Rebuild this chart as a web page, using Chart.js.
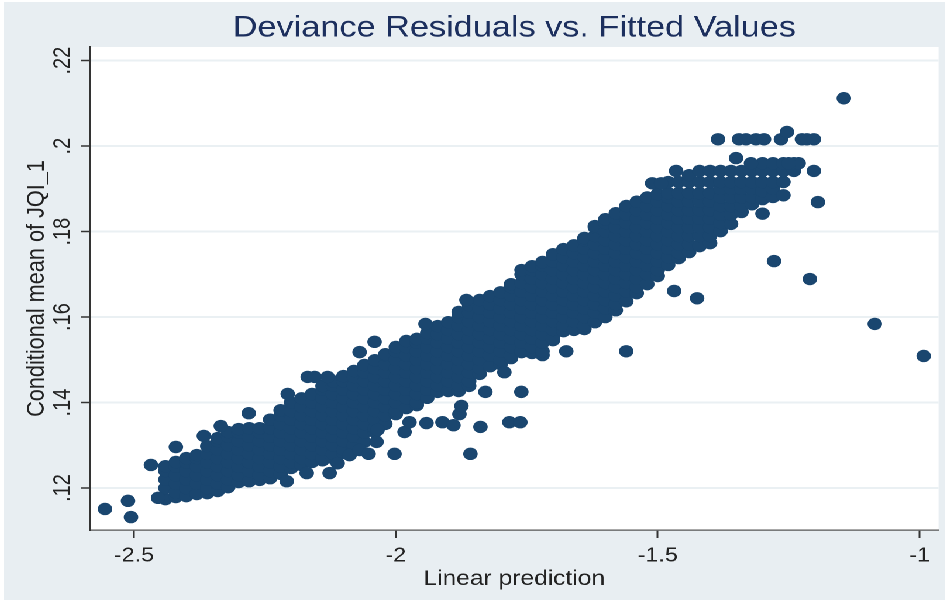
<!DOCTYPE html>
<html>
<head>
<meta charset="utf-8">
<script src="https://cdn.jsdelivr.net/npm/chart.js@4"></script>
<style>
html,body{margin:0;padding:0;background:#fff;width:945px;height:600px;overflow:hidden}
#wrap{position:absolute;left:4px;top:2px;width:805px;height:598px;background:#e8eef2;transform:scaleX(1.17);transform-origin:0 0}
canvas{display:block}
</style>
</head>
<body>
<div id="wrap"><canvas id="c" width="805" height="598" style="width:805px;height:598px"></canvas></div>
<script>
const chartTitle = "Deviance Residuals vs. Fitted Values";
const xAxisTitle = "Linear prediction";
const yAxisTitle = "Conditional mean of JQI_1";
const xTickValues = [-2.5, -2, -1.5, -1];
const xTickLabels = ["-2.5", "-2", "-1.5", "-1"];
const yTickValues = [0.12, 0.14, 0.16, 0.18, 0.2, 0.22];
const yTickLabels = [".12", ".14", ".16", ".18", ".2", ".22"];

// main cloud
const cloudX = [-2.44,-2.42,-2.40,-2.38,-2.36,-2.34,-2.32,-2.30,-2.28,-2.26,-2.24,-2.22,-2.20,-2.18,-2.16,-2.14,-2.12,-2.10,-2.08,-2.06,-2.04,-2.02,-2.00,-1.98,-1.96,-1.94,-1.92,-1.90,-1.88,-1.86,-1.84,-1.82,-1.80,-1.78,-1.76,-1.74,-1.72,-1.70,-1.68,-1.66,-1.64,-1.62,-1.60,-1.58,-1.56,-1.54,-1.52,-1.50,-1.48,-1.46,-1.44,-1.42,-1.40,-1.38,-1.36,-1.34,-1.32,-1.30,-1.28,-1.26,-1.24];
const cloudY = [
[.1174,.120,.122,.124,.1251],
[.1179,.119,.121,.123,.125,.1261],
[.1181,.120,.122,.124,.126,.127],
[.1186,.121,.123,.125,.127,.1277],
[.1188,.120,.122,.124,.126,.128,.1298],
[.1193,.121,.123,.125,.127,.129,.131,.1317],
[.1202,.122,.124,.126,.128,.130,.132,.1331],
[.1214,.123,.125,.127,.129,.131,.133,.1338],
[.1216,.124,.126,.128,.130,.132,.134],
[.1219,.123,.125,.127,.129,.131,.133,.134],
[.1223,.124,.126,.128,.130,.132,.134,.136],
[.1233,.125,.127,.129,.131,.133,.135,.137,.1382],
[.1247,.126,.128,.130,.132,.134,.136,.138,.140],
[.1254,.127,.129,.131,.133,.135,.137,.139,.141],
[.1261,.128,.130,.132,.134,.136,.138,.140,.142],
[.1265,.127,.129,.131,.133,.135,.137,.139,.141,.143,.1439],
[.1270,.128,.130,.132,.134,.136,.138,.140,.142,.144,.145],
[.1282,.129,.131,.133,.135,.137,.139,.141,.143,.145,.1462],
[.1291,.130,.132,.134,.136,.138,.140,.142,.144,.146,.1474],
[.1308,.133,.135,.137,.139,.141,.143,.145,.147,.1488],
[.1331,.134,.136,.138,.140,.142,.144,.146,.148,.1499],
[.135,.137,.139,.141,.143,.145,.147,.149,.151,.1513],
[.1373,.138,.140,.142,.144,.146,.148,.150,.152,.153],
[.1387,.141,.143,.145,.147,.149,.151,.153,.1544],
[.1394,.140,.142,.144,.146,.148,.150,.152,.154,.1549],
[.1411,.143,.145,.147,.149,.151,.153,.155,.1563],
[.1425,.144,.146,.148,.150,.152,.154,.156,.1579],
[.1427,.145,.147,.149,.151,.153,.155,.157,.1588],
[.1427,.144,.146,.148,.150,.152,.154,.156,.158,.160,.1612],
[.1439,.145,.147,.149,.151,.153,.155,.157,.159,.161,.1628],
[.1467,.148,.150,.152,.154,.156,.158,.160,.162,.164],
[.1485,.151,.153,.155,.157,.159,.161,.163,.1649],
[.1490,.150,.152,.154,.156,.158,.160,.162,.164,.1658],
[.1504,.151,.153,.155,.157,.159,.161,.163,.165,.167,.1677],
[.1518,.152,.154,.156,.158,.160,.162,.164,.166,.168,.170,.171],
[.1516,.153,.155,.157,.159,.161,.163,.165,.167,.169,.171,.1719],
[.1511,.152,.154,.156,.158,.160,.162,.164,.166,.168,.170,.172,.1729],
[.1546,.155,.157,.159,.161,.163,.165,.167,.169,.171,.173,.1747],
[.1567,.158,.160,.162,.164,.166,.168,.170,.172,.174,.1759],
[.1570,.159,.161,.163,.165,.167,.169,.171,.173,.175,.1768],
[.1572,.158,.160,.162,.164,.166,.168,.170,.172,.174,.176,.178,.1785],
[.1588,.161,.163,.165,.167,.169,.171,.173,.175,.177,.179,.181,.1813],
[.160,.162,.164,.166,.168,.170,.172,.174,.176,.178,.180,.182,.1829],
[.1616,.163,.165,.167,.169,.171,.173,.175,.177,.179,.181,.183,.1843],
[.1637,.166,.168,.170,.172,.174,.176,.178,.180,.182,.184,.186],
[.1656,.167,.169,.171,.173,.175,.177,.179,.181,.183,.185,.187],
[.1677,.170,.172,.174,.176,.178,.180,.182,.184,.186,.188],
[.1696,.171,.173,.175,.177,.179,.181,.183,.185,.187,.1888],
[.1722,.174,.176,.178,.180,.182,.184,.186,.188,.189,.1916],
[.1738,.175,.177,.179,.181,.183,.185,.187,.189,.1916],
[.1752,.177,.179,.181,.183,.185,.187,.189,.1916,.1932],
[.1766,.179,.181,.183,.185,.187,.189,.1916,.1942],
[.1773,.179,.181,.183,.185,.187,.189,.1916,.1942],
[.1801,.182,.184,.186,.188,.190,.1916,.1942],
[.1818,.184,.186,.188,.190,.1916,.1942],
[.1846,.186,.188,.190,.1916,.1942],
[.1864,.188,.190,.1916,.1942],
[.1876,.1895,.1916,.1942,.196],
[.1881,.190,.1916,.1942,.196],
[.1885,.1916,.1942,.196],
[.1942,.196]
];

// single dots standing clear of the cloud
const strayX = [-2.5553,-2.5114,-2.5057,-2.4676,-2.454,-2.42,-2.3666,-2.3342,-2.2808,-2.2064,-2.1683,-2.155,-2.1302,-2.0692,-2.0406,-1.9434,-1.8652,
-2.2083,-2.1702,-2.1264,-2.1111,-2.0883,-2.0692,-2.052,-2.0025,-2.0368,-2.0349,-1.9834,-1.9739,-1.9415,-1.911,-1.89,-1.8786,-1.8748,-1.8385,-1.8576,-1.7833,-1.7623,-1.829,-1.7604,-1.7928,-1.6746,-1.5602,-1.4687,-1.4248,
-1.5107,-1.4935,-1.4649,-1.231,-1.3505,-1.322,-1.3849,-1.3448,-1.3315,-1.3124,-1.2971,-1.2648,-1.2533,-1.2247,-1.2152,-1.2019,-1.2019,-1.1942,-1.1447,-1.278,-1.2095,-1.0856,-0.9922,-1.3,-1.25];
const strayY = [.1151,.1170,.1132,.1254,.1177,.1296,.1322,.1345,.1375,.1420,.1460,.1460,.1460,.1518,.1542,.1584,.1640,
.1216,.1235,.1235,.1258,.1277,.1289,.1280,.1280,.1308,.1336,.1331,.1354,.1352,.1354,.1347,.1373,.1392,.1343,.1280,.1354,.1354,.1425,.1425,.1471,.1520,.1520,.1661,.1644,
.1913,.1913,.1942,.196,.1972,.196,.2016,.2016,.2016,.2016,.2016,.2016,.2033,.2016,.2016,.2016,.1942,.1869,.2112,.1731,.1689,.1584,.1509,.1842,.196];

const points = [];
cloudX.forEach((x, i) => cloudY[i].forEach(y => points.push({x, y})));
strayX.forEach((x, i) => points.push({x, y: strayY[i]}));

const paintPlot = {
  id: 'paintPlot',
  beforeDraw(chart) {
    const a = chart.chartArea, c = chart.ctx;
    c.save();
    c.fillStyle = '#ffffff';
    c.fillRect(a.left, a.top, a.right - a.left, a.bottom - a.top);
    c.restore();
  }
};

const FONT = '"Liberation Sans", Arial, sans-serif';
new Chart(document.getElementById('c'), {
  type: 'scatter',
  data: { datasets: [{ data: points, pointRadius: 6.2, pointHoverRadius: 6.2, pointBorderWidth: 0,
    backgroundColor: '#1a466f', borderColor: '#1a466f' }] },
  plugins: [paintPlot],
  options: {
    responsive: false, animation: false, devicePixelRatio: 2,
    layout: { padding: { left: 15, bottom: 8, top: 0, right: 0 } },
    plugins: {
      legend: { display: false }, tooltip: { enabled: false },
      title: { display: true, text: chartTitle, color: '#1c2f5e', fullSize: false,
        font: { family: FONT, size: 29.3, weight: 'normal' }, padding: { top: 9, bottom: 0.8 } }
    },
    scales: {
      x: { type: 'linear', min: -2.5839, max: -0.9638,
        afterBuildTicks: s => { s.ticks = xTickValues.map(v => ({ value: v })); },
        afterFit: s => { s.height = 62; },
        ticks: { autoSkip: false, maxRotation: 0, minRotation: 0, color: '#222', padding: 6,
          font: { family: FONT, size: 20 }, callback: (v, i) => xTickLabels[i] },
        grid: { drawOnChartArea: false, drawTicks: true, tickLength: 8, tickColor: '#333', tickWidth: 1.5 },
        border: { color: '#555', width: 1.2 },
        title: { display: true, text: xAxisTitle, color: '#222', font: { family: FONT, size: 21 }, padding: { top: 2, bottom: 0 } }
      },
      y: { type: 'linear', min: 0.11018, max: 0.2232,
        afterBuildTicks: s => { s.ticks = yTickValues.map(v => ({ value: v })); },
        afterFit: s => { s.width = 58.5; },
        ticks: { autoSkip: false, minRotation: 90, maxRotation: 90, crossAlign: 'center', color: '#222', padding: 1,
          font: { family: FONT, size: 20 }, callback: (v, i) => yTickLabels[i] },
        grid: { color: '#eaf0f3', lineWidth: 2, drawTicks: true, tickLength: 8, tickColor: '#333', tickWidth: 1.5 },
        border: { color: '#333', width: 1.5 },
        title: { display: true, text: yAxisTitle, color: '#222', font: { family: FONT, size: 21.7 }, padding: { top: 0, bottom: 0 } }
      }
    }
  }
});
</script>
</body>
</html>
